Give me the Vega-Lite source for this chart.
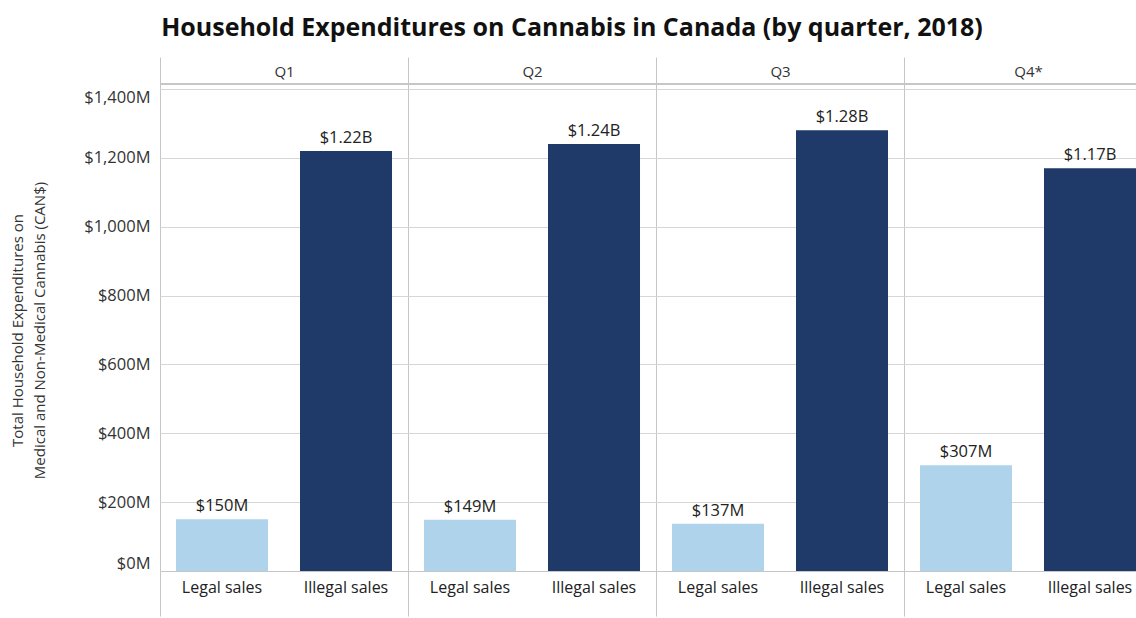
{
  "$schema": "https://vega.github.io/schema/vega-lite/v6.json",
  "autosize": {"type": "none"},
  "padding": {"left": 160, "top": 89, "right": 0, "bottom": 47},
  "width": 976,
  "height": 482,
  "background": "white",
  "title": {
    "text": "Household Expenditures on Cannabis in Canada (by quarter, 2018)",
    "font": "Open Sans",
    "fontSize": 25,
    "fontWeight": "bold",
    "color": "#111111",
    "anchor": "middle",
    "dx": -76,
    "offset": 16
  },
  "config": {"view": {"stroke": null}, "font": "Open Sans"},
  "data": {
    "values": [
      {"quarter": "Q1", "type": "Legal sales", "value": 150, "label": "$150M"},
      {"quarter": "Q1", "type": "Illegal sales", "value": 1220, "label": "$1.22B"},
      {"quarter": "Q2", "type": "Legal sales", "value": 149, "label": "$149M"},
      {"quarter": "Q2", "type": "Illegal sales", "value": 1240, "label": "$1.24B"},
      {"quarter": "Q3", "type": "Legal sales", "value": 137, "label": "$137M"},
      {"quarter": "Q3", "type": "Illegal sales", "value": 1280, "label": "$1.28B"},
      {"quarter": "Q4*", "type": "Legal sales", "value": 307, "label": "$307M"},
      {"quarter": "Q4*", "type": "Illegal sales", "value": 1170, "label": "$1.17B"}
    ]
  },
  "layer": [
    {
      "mark": {"type": "bar"},
      "encoding": {
        "x": {
          "field": "quarter", "type": "nominal", "sort": ["Q1", "Q2", "Q3", "Q4*"],
          "scale": {"paddingInner": 0, "paddingOuter": 0, "range": [0, 992]},
          "axis": {
            "orient": "top", "title": null, "tickBand": "extent", "tickSize": 32,
            "tickColor": "#c6c6c6", "domain": false, "grid": true, "gridColor": "#c6c6c6",
            "labelFont": "Open Sans", "labelFontSize": 15, "labelColor": "#333333",
            "labelAngle": 0, "labelBaseline": "middle", "labelPadding": -14.5
          }
        },
        "xOffset": {
          "field": "type", "type": "nominal", "sort": ["Legal sales", "Illegal sales"],
          "scale": {"paddingInner": 0.258, "paddingOuter": 0.129}
        },
        "y": {
          "field": "value", "type": "quantitative",
          "scale": {"domain": [0, 1400], "nice": false},
          "axis": {
            "values": [0, 200, 400, 600, 800, 1000, 1200, 1400],
            "labelExpr": "'$' + format(datum.value, ',') + 'M'",
            "grid": true, "gridColor": "#d6d6d6", "domain": false, "ticks": false,
            "labelFlush": true, "labelPadding": 10, "labelFont": "Open Sans",
            "labelFontSize": 16.5, "labelColor": "#333333",
            "title": ["Total Household Expenditures on", "Medical and Non-Medical Cannabis (CAN$)"],
            "titleFont": "Open Sans", "titleFontSize": 15, "titleFontWeight": "normal",
            "titleColor": "#333333", "titleLineHeight": 22, "titlePadding": 36
          }
        },
        "color": {
          "field": "type", "type": "nominal",
          "scale": {"domain": ["Legal sales", "Illegal sales"], "range": ["#AED3EB", "#1F3A68"]},
          "legend": null
        }
      }
    },
    {
      "mark": {"type": "text", "baseline": "alphabetic", "dy": -8, "fontSize": 16.5, "color": "#222222", "font": "Open Sans"},
      "encoding": {
        "x": {"field": "quarter", "type": "nominal", "sort": ["Q1", "Q2", "Q3", "Q4*"], "axis": null},
        "xOffset": {"field": "type", "type": "nominal", "sort": ["Legal sales", "Illegal sales"]},
        "y": {"field": "value", "type": "quantitative"},
        "text": {"field": "label"}
      }
    },
    {
      "mark": {"type": "text", "baseline": "middle", "dy": 17, "fontSize": 16, "color": "#222222", "font": "Open Sans"},
      "encoding": {
        "x": {
          "field": "quarter", "type": "nominal", "sort": ["Q1", "Q2", "Q3", "Q4*"],
          "axis": {
            "orient": "bottom", "title": null, "labels": false, "tickBand": "extent",
            "tickSize": 45, "tickColor": "#c6c6c6", "domain": true, "domainColor": "#c6c6c6", "grid": false
          }
        },
        "xOffset": {"field": "type", "type": "nominal", "sort": ["Legal sales", "Illegal sales"]},
        "y": {"datum": 0, "type": "quantitative"},
        "text": {"field": "type"}
      }
    },
    {
      "mark": {"type": "rule", "color": "#c6c6c6"},
      "encoding": {"y": {"datum": 1414.5, "type": "quantitative"}}
    }
  ],
  "resolve": {"axis": {"x": "independent"}}
}
